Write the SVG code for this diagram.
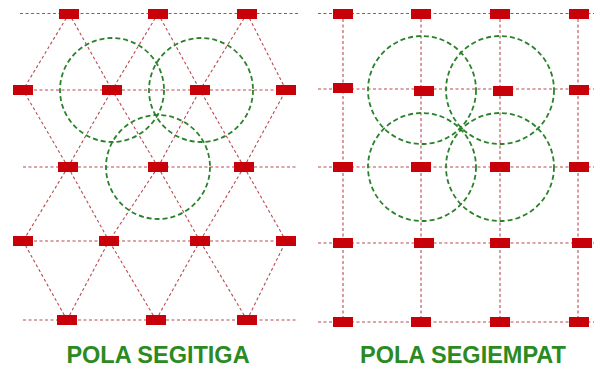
<svg xmlns="http://www.w3.org/2000/svg" width="594" height="367" viewBox="0 0 594 367">
<style>
.g{stroke:#b84a50;stroke-width:1.1;stroke-dasharray:3 2.5;fill:none}
.c{stroke:#2b822b;stroke-width:1.8;stroke-dasharray:5 3;fill:none}
.p{fill:#c8000a}
.t{font-family:"Liberation Sans",Arial,sans-serif;font-weight:bold;font-size:23.5px;fill:#2b8a22;text-anchor:middle}
</style>
<rect width="594" height="367" fill="#ffffff"/>
<g id="connectors">
<line class="g" x1="20" y1="13.5" x2="298" y2="13.5"/>
<line class="g" x1="23" y1="90" x2="286" y2="90"/>
<line class="g" x1="23" y1="167" x2="298" y2="167"/>
<line class="g" x1="23" y1="241" x2="286" y2="241"/>
<line class="g" x1="23" y1="320" x2="298" y2="320"/>
<path class="g" d="M69 13.5L23 90M69 13.5L112 90M158 13.5L112 90M158 13.5L200 90M247 13.5L200 90M247 13.5L286 90"/>
<path class="g" d="M68 167L23 90M68 167L112 90M158 167L112 90M158 167L200 90M244 167L200 90M244 167L286 90"/>
<path class="g" d="M68 167L23 241M68 167L109 241M158 167L109 241M158 167L200 241M244 167L200 241M244 167L286 241"/>
<path class="g" d="M67 320L23 241M67 320L109 241M156 320L109 241M156 320L200 241M247 320L200 241M247 320L286 241"/>
<line class="g" x1="318" y1="13.5" x2="594" y2="13.5"/>
<line class="g" x1="318" y1="89" x2="594" y2="89"/>
<line class="g" x1="318" y1="167" x2="594" y2="167"/>
<line class="g" x1="318" y1="243" x2="594" y2="243"/>
<line class="g" x1="318" y1="322" x2="594" y2="322"/>
<line class="g" x1="343" y1="13.5" x2="343" y2="322"/>
<line class="g" x1="421" y1="13.5" x2="421" y2="322"/>
<line class="g" x1="500" y1="13.5" x2="500" y2="322"/>
<line class="g" x1="578" y1="13.5" x2="578" y2="322"/>
</g>
<g id="circles-left">
<circle class="c" cx="112" cy="90" r="52"/>
<circle class="c" cx="201" cy="90" r="52"/>
<circle class="c" cx="158" cy="167" r="52"/>
</g>
<g id="circles-right">
<circle class="c" cx="422" cy="90" r="54"/>
<circle class="c" cx="500" cy="90" r="54"/>
<circle class="c" cx="422" cy="167" r="54"/>
<circle class="c" cx="500" cy="167" r="54"/>
</g>
<g id="columns-left">
<rect class="p" x="59" y="9" width="20" height="10"/>
<rect class="p" x="148" y="9" width="20" height="10"/>
<rect class="p" x="237" y="9" width="20" height="10"/>
<rect class="p" x="13" y="85" width="20" height="10"/>
<rect class="p" x="102" y="85" width="20" height="10"/>
<rect class="p" x="190" y="85" width="20" height="10"/>
<rect class="p" x="276" y="85" width="20" height="10"/>
<rect class="p" x="58" y="162" width="20" height="10"/>
<rect class="p" x="148" y="162" width="20" height="10"/>
<rect class="p" x="234" y="162" width="20" height="10"/>
<rect class="p" x="13" y="236" width="20" height="10"/>
<rect class="p" x="99" y="236" width="20" height="10"/>
<rect class="p" x="190" y="236" width="20" height="10"/>
<rect class="p" x="276" y="236" width="20" height="10"/>
<rect class="p" x="57" y="315" width="20" height="10"/>
<rect class="p" x="146" y="315" width="20" height="10"/>
<rect class="p" x="237" y="315" width="20" height="10"/>
</g>
<g id="columns-right">
<rect class="p" x="333" y="9" width="20" height="10"/>
<rect class="p" x="411" y="9" width="20" height="10"/>
<rect class="p" x="490" y="9" width="20" height="10"/>
<rect class="p" x="569" y="9" width="20" height="10"/>
<rect class="p" x="333" y="83" width="20" height="10"/>
<rect class="p" x="414" y="86" width="20" height="10"/>
<rect class="p" x="493" y="86" width="20" height="10"/>
<rect class="p" x="569" y="85" width="20" height="10"/>
<rect class="p" x="333" y="162" width="20" height="10"/>
<rect class="p" x="411" y="162" width="20" height="10"/>
<rect class="p" x="490" y="162" width="20" height="10"/>
<rect class="p" x="569" y="162" width="20" height="10"/>
<rect class="p" x="333" y="238" width="20" height="10"/>
<rect class="p" x="414" y="238" width="20" height="10"/>
<rect class="p" x="490" y="238" width="20" height="10"/>
<rect class="p" x="572" y="238" width="20" height="10"/>
<rect class="p" x="333" y="317" width="20" height="10"/>
<rect class="p" x="411" y="317" width="20" height="10"/>
<rect class="p" x="490" y="317" width="20" height="10"/>
<rect class="p" x="569" y="317" width="20" height="10"/>
</g>
<g id="labels">
<text class="t" x="158" y="363">POLA SEGITIGA</text>
<text class="t" x="463" y="363">POLA SEGIEMPAT</text>
</g>
</svg>
